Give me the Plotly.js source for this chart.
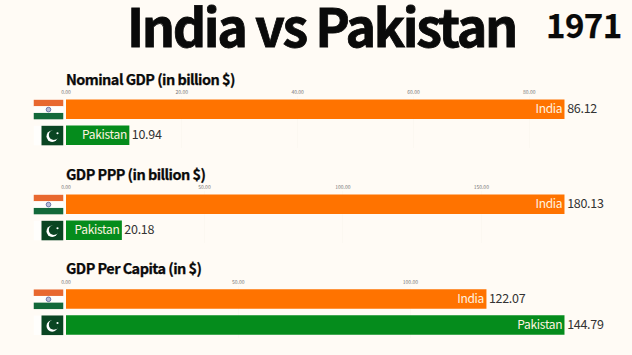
<!DOCTYPE html>
<html><head><meta charset="utf-8">
<script src="https://cdn.plot.ly/plotly-3.0.1.min.js"></script>
<style>html,body{margin:0;padding:0;background:#fffbf5;overflow:hidden}
.gtitle{letter-spacing:-2.4px;stroke:#0a0a0a;stroke-width:0.8px}
.annotation-text{letter-spacing:-0.55px;stroke:#0a0a0a;stroke-width:0.25px}
.textpoint text{letter-spacing:-0.3px;transform:translateY(1px)}
</style>
</head><body><div id="chart" style="width:632px;height:355px"></div>
<script>
const categories = ["India", "Pakistan"];
const nominalGDP = [86.12, 10.94];
const gdpPPP = [180.13, 20.18];
const gdpPerCapita = [122.07, 144.79];
const panelTitles = ["Nominal GDP (in billion $)", "GDP PPP (in billion $)", "GDP Per Capita (in $)"];
const panelTicks = [[0,20,40,60,80],[0,50,100,150],[0,50,100]];
const colors = ["#ff7300", "#058c1c"];
const W = 632, H = 355, FONT = '"Noto Sans CJK JP","Noto Sans",sans-serif';
const panels = [
  {vals:nominalGDP, top:96.3, head:78.5},
  {vals:gdpPPP, top:191.3, head:173.8},
  {vals:gdpPerCapita, top:286, head:267.5}
];
const fx = p => p/W, fy = p => 1-p/H;
const india = 'data:image/svg+xml,' + encodeURIComponent('<svg xmlns="http://www.w3.org/2000/svg" width="90" height="60" viewBox="0 0 90 60"><rect width="90" height="20" fill="#e8682f"/><rect y="20" width="90" height="20" fill="#fffefc"/><rect y="40" width="90" height="20" fill="#13693a"/><circle cx="45" cy="30" r="7" fill="#b9bcd6" stroke="#3d4a8c" stroke-width="2"/></svg>');
const pakistan = 'data:image/svg+xml,' + encodeURIComponent('<svg xmlns="http://www.w3.org/2000/svg" width="90" height="60" viewBox="0 0 90 60"><rect width="24" height="60" fill="#fffefc"/><rect x="24" width="66" height="60" fill="#0a4522"/><circle cx="56" cy="32" r="17" fill="#fff"/><circle cx="61" cy="28" r="15" fill="#0a4522"/><circle cx="72" cy="23" r="3.2" fill="#fff"/></svg>');
const data = [], images = [], annotations = [];
const layout = {
  width:W, height:H, margin:{l:0,r:0,t:0,b:0}, showlegend:false,
  paper_bgcolor:"#fffbf5", plot_bgcolor:"#fffbf5",
  font:{family:FONT},
  title:{text:"<b>India vs Pakistan</b>", x:fx(321.5), y:fy(29), xanchor:"center", yanchor:"middle", font:{size:52,color:"#0a0a0a",family:FONT}},
  images, annotations
};
panels.forEach((p,i) => {
  const n = i===0 ? "" : String(i+1);
  const maxV = Math.max(...p.vals);
  data.push({type:"bar", orientation:"h", x:p.vals, y:categories, xaxis:"x"+n, yaxis:"y"+n,
    marker:{color:colors}, width:0.75, hoverinfo:"skip"});
  data.push({type:"scatter", mode:"text", x:p.vals, y:categories, xaxis:"x"+n, yaxis:"y"+n,
    text:categories.map(c=>c+"\u00a0"), textposition:"middle left", cliponaxis:false,
    textfont:{size:12,color:"#fff3e0",family:FONT}, hoverinfo:"skip"});
  data.push({type:"scatter", mode:"text", x:p.vals, y:categories, xaxis:"x"+n, yaxis:"y"+n,
    text:p.vals.map(v=>"\u00a0"+v.toFixed(2)), textposition:"middle right", cliponaxis:false,
    textfont:{size:12.5,color:"#333",family:FONT}, hoverinfo:"skip"});
  layout["xaxis"+n] = {domain:[fx(66),fx(564.7)], range:[0,maxV], side:"top", anchor:"y"+n,
    tickvals:panelTicks[i], ticktext:panelTicks[i].map(v=>v.toFixed(2)),
    tickfont:{size:5,color:"#777",family:FONT}, ticks:"", ticklen:0, showline:false, zeroline:false,
    showgrid:true, gridcolor:"#fcf8f1", gridwidth:1, fixedrange:true};
  layout["yaxis"+n] = {domain:[fy(p.top+52),fy(p.top)], anchor:"x"+n, type:"category",
    categoryorder:"array", categoryarray:categories, autorange:"reversed",
    showticklabels:false, ticks:"", showgrid:false, zeroline:false, showline:false, fixedrange:true};
  annotations.push({xref:"paper",yref:"paper",x:fx(64),y:fy(p.head),xanchor:"left",yanchor:"middle",showarrow:false,
    text:"<b>"+panelTitles[i]+"</b>",font:{size:14.5,color:"#0a0a0a",family:FONT}});
  images.push({source:india,xref:"paper",yref:"paper",x:fx(33.5),y:fy(p.top+3.3),sizex:30/W,sizey:20/H,sizing:"stretch",xanchor:"left",yanchor:"top",layer:"above"});
  images.push({source:pakistan,xref:"paper",yref:"paper",x:fx(33.5),y:fy(p.top+29.3),sizex:30/W,sizey:20/H,sizing:"stretch",xanchor:"left",yanchor:"top",layer:"above"});
});
annotations.push({xref:"paper",yref:"paper",x:fx(583.5),y:fy(24),xanchor:"center",yanchor:"middle",showarrow:false,
  text:"<b>1971</b>",font:{size:33,color:"#0a0a0a",family:FONT}});
Plotly.newPlot("chart", data, layout, {staticPlot:true, displayModeBar:false});
</script></body></html>
